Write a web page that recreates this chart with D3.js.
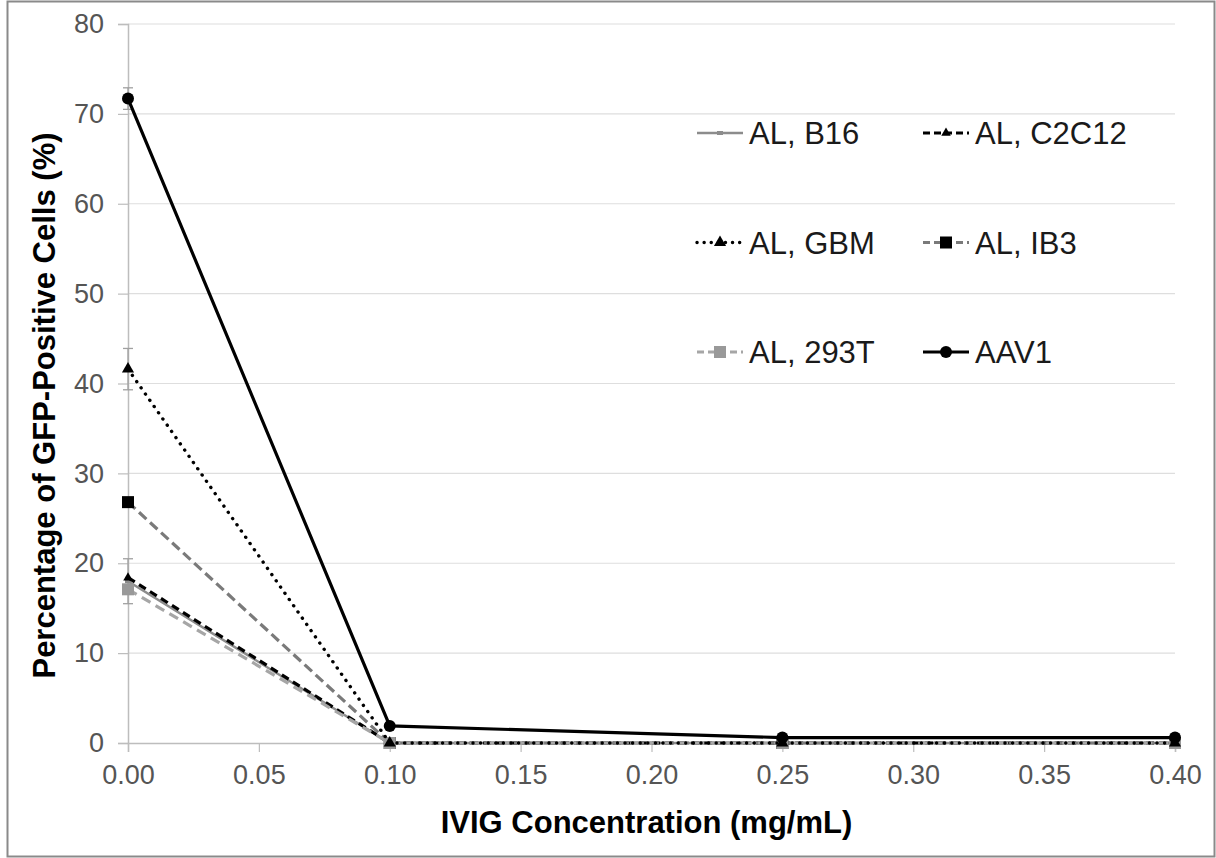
<!DOCTYPE html>
<html>
<head>
<meta charset="utf-8">
<script src="https://cdn.jsdelivr.net/npm/d3@7"></script>
<style>
  body { margin: 0; background: #fff; }
  text { font-family: "Liberation Sans", Arial, sans-serif; }
</style>
</head>
<body>
<div id="chart"></div>
<script>
// IVIG concentrations (mg/mL)
const conc = [0.00, 0.10, 0.25, 0.40];
const xTicks = [0, 0.05, 0.10, 0.15, 0.20, 0.25, 0.30, 0.35, 0.40];
const yTicks = [0, 10, 20, 30, 40, 50, 60, 70, 80];

// percentage of GFP-positive cells
const b16   = [18.0, 0, 0, 0];
const c2c12 = [18.4, 0, 0, 0];
const gbm   = [41.6, 0, 0, 0];
const ib3   = [26.8, 0, 0, 0];
const t293  = [17.1, 0, 0, 0];
const aav1  = [71.7, 1.9, 0.6, 0.6];

// error bars (+/-)
const b16Err  = [2.5, 0, 0, 0];
const gbmErr  = [2.3, 0, 0, 0];
const aav1Err = [1.2, 0, 0, 0];

const W = 1216, H = 858;
const margin = {top: 24, right: 41, bottom: 115, left: 128},
    width = W - margin.left - margin.right,
    height = H - margin.top - margin.bottom;

const series = [
  {name: "AL, B16",   values: b16,   err: b16Err, color: "#8c8c8c", width: 2.5, dash: null,    marker: "tick"},
  {name: "AL, C2C12", values: c2c12, err: null,   color: "#000",    width: 3.2, dash: "8,5",   marker: "tri-s"},
  {name: "AL, IB3",   values: ib3,   err: null,   color: "#7a7a7a", width: 3.2, dash: "10,5",  marker: "sq-b"},
  {name: "AL, 293T",  values: t293,  err: null,   color: "#a6a6a6", width: 3.2, dash: "10,6",  marker: "sq-g"},
  {name: "AL, GBM",   values: gbm,   err: gbmErr, color: "#000",    width: 3.4, dash: "0.1,7.5", marker: "tri"},
  {name: "AAV1",      values: aav1,  err: aav1Err, color: "#000",   width: 3.2, dash: null,    marker: "circle"}
];

const x = d3.scaleLinear().domain([0, 0.40]).range([0, width]);
const y = d3.scaleLinear().domain([0, 80]).range([height, 0]);

const svg = d3.select("#chart").append("svg")
    .attr("width", W)
    .attr("height", H);

// outer frame
svg.append("rect")
    .attr("x", 7.5).attr("y", 1.5)
    .attr("width", W - 9).attr("height", H - 3)
    .attr("fill", "none").attr("stroke", "#8a8a8a").attr("stroke-width", 2);

const g = svg.append("g")
    .attr("transform", "translate(" + margin.left + "," + margin.top + ")");

// gridlines
g.append("g").selectAll("line").data(yTicks.slice(1)).join("line")
    .attr("x1", 0).attr("x2", width)
    .attr("y1", d => y(d)).attr("y2", d => y(d))
    .attr("stroke", "#dedede").attr("stroke-width", 1.2);

// axes
const yAxis = d3.axisLeft(y).tickValues(yTicks).tickSize(10).tickPadding(14).tickFormat(d3.format("d"));
const xAxis = d3.axisBottom(x).tickValues(xTicks).tickSize(9).tickPadding(12).tickFormat(d3.format(".2f"));

const ya = g.append("g").attr("class", "y axis").call(yAxis);
const xa = g.append("g").attr("class", "x axis")
    .attr("transform", "translate(0," + height + ")").call(xAxis);

[ya, xa].forEach(a => {
  a.select(".domain").attr("stroke", "#bdbdbd").attr("stroke-width", 1.5);
  a.selectAll(".tick line").attr("stroke", "#bdbdbd").attr("stroke-width", 1.2);
  a.selectAll(".tick text").attr("fill", "#555").style("font-size", "27px");
});
xa.selectAll(".tick text").attr("dy", "0.75em");

// axis titles
svg.append("text")
    .attr("x", margin.left + width / 2 - 5)
    .attr("y", 833)
    .attr("text-anchor", "middle")
    .style("font-size", "31px").style("font-weight", "bold")
    .text("IVIG Concentration (mg/mL)");

svg.append("text")
    .attr("transform", "translate(55," + (margin.top + height / 2 + 22) + ") rotate(-90)")
    .attr("text-anchor", "middle")
    .style("font-size", "31px").style("font-weight", "bold")
    .text("Percentage of GFP-Positive Cells (%)");

const line = d3.line().x(d => x(d[0])).y(d => y(d[1]));

function drawMarker(sel, s, px, py) {
  if (s.marker === "circle") {
    sel.append("circle").attr("cx", px).attr("cy", py).attr("r", 6).attr("fill", "#000");
  } else if (s.marker === "sq-b" || s.marker === "sq-g") {
    sel.append("rect").attr("x", px - 6).attr("y", py - 6).attr("width", 12).attr("height", 12)
        .attr("fill", s.marker === "sq-b" ? "#000" : "#999");
  } else if (s.marker === "tri" || s.marker === "tri-s") {
    const r = s.marker === "tri" ? 7 : 5.5;
    sel.append("path")
        .attr("d", d3.symbol(d3.symbolTriangle, r * r * 1.3)())
        .attr("transform", "translate(" + px + "," + py + ")")
        .attr("fill", "#000");
  } else if (s.marker === "tick") {
    sel.append("rect").attr("x", px - 3).attr("y", py - 2).attr("width", 6).attr("height", 4)
        .attr("fill", s.color);
  }
}

// error bars
series.forEach(s => {
  if (!s.err) return;
  const eg = g.append("g");
  conc.forEach((c, i) => {
    if (!s.err[i]) return;
    const px = x(c), y0 = y(s.values[i] - s.err[i]), y1 = y(s.values[i] + s.err[i]);
    eg.append("line").attr("x1", px).attr("x2", px).attr("y1", y0).attr("y2", y1)
        .attr("stroke", "#a0a0a0").attr("stroke-width", 1.3);
    [y0, y1].forEach(yy => eg.append("line")
        .attr("x1", px - 5).attr("x2", px + 5).attr("y1", yy).attr("y2", yy)
        .attr("stroke", "#a0a0a0").attr("stroke-width", 1.3));
  });
});

// series
series.forEach(s => {
  const sg = g.append("g");
  const pts = conc.map((c, i) => [c, s.values[i]]);
  sg.append("path")
      .attr("d", line(pts))
      .attr("fill", "none")
      .attr("stroke", s.color)
      .attr("stroke-width", s.width)
      .attr("stroke-dasharray", s.dash)
      .attr("stroke-linecap", s.marker === "tri" ? "round" : "butt");
  pts.forEach(p => drawMarker(sg, s, x(p[0]), y(p[1])));
});

// legend (3 rows x 2 columns)
const legendOrder = ["AL, B16", "AL, C2C12", "AL, GBM", "AL, IB3", "AL, 293T", "AAV1"];
const legend = svg.append("g");
legendOrder.forEach((name, i) => {
  const s = series.find(d => d.name === name);
  const col = i % 2, row = Math.floor(i / 2);
  const lx = col === 0 ? 697 : 923, ly = 133 + row * 109.5;
  const lg = legend.append("g");
  lg.append("line").attr("x1", lx).attr("x2", lx + 46).attr("y1", ly).attr("y2", ly)
      .attr("stroke", s.color).attr("stroke-width", s.width)
      .attr("stroke-linecap", s.marker === "tri" ? "round" : "butt")
      .attr("stroke-dasharray", s.marker === "tri" ? "0.1,7" : (s.dash ? "7,4" : null));
  drawMarker(lg, s, lx + 23, ly);
  lg.append("text").attr("x", lx + 52).attr("y", ly + 11)
      .style("font-size", "31px").attr("fill", "#1a1a1a")
      .text(name);
});
</script>
</body>
</html>
